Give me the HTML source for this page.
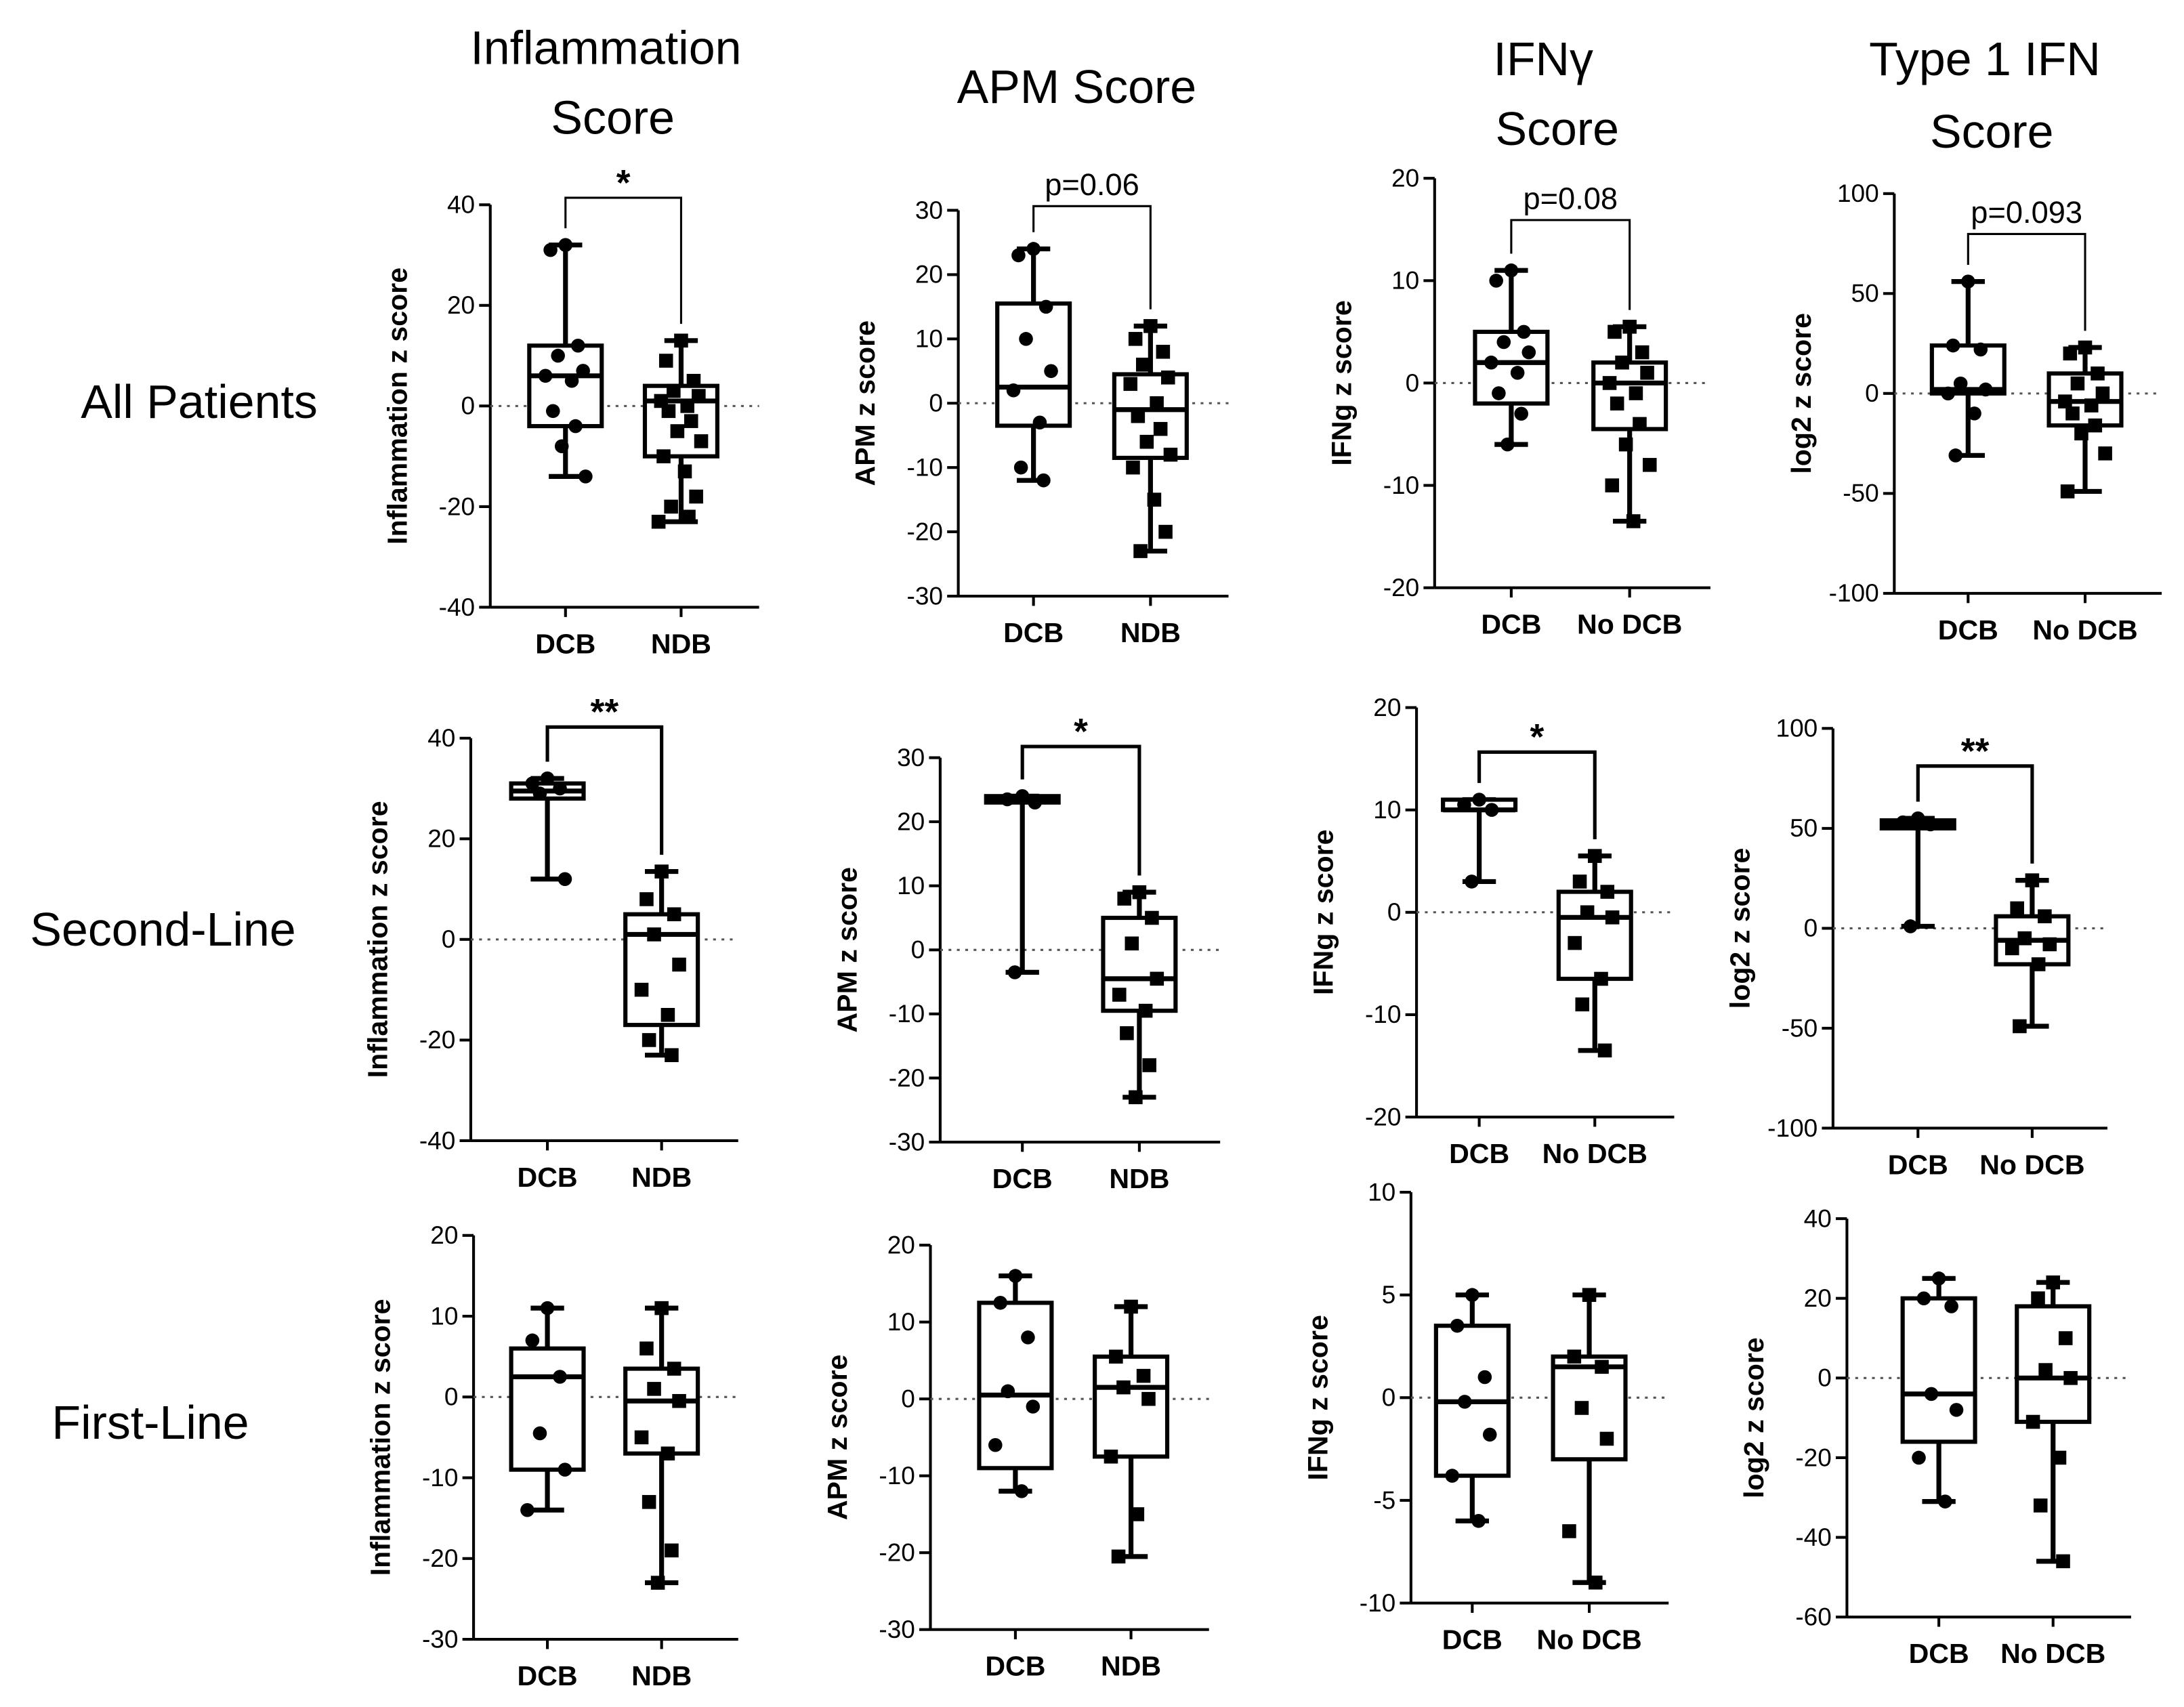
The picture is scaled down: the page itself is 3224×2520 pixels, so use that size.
<!DOCTYPE html>
<html><head><meta charset="utf-8"><style>
html,body{margin:0;padding:0;background:#fff;}
svg{display:block;font-family:"Liberation Sans",sans-serif;}
</style></head><body>
<svg id="fig" width="3224" height="2520" viewBox="0 0 1568 1225.6" xmlns="http://www.w3.org/2000/svg">
<g font-size="34" text-anchor="middle" fill="#000">
<text x="435" y="46">Inflammation</text>
<text x="440" y="96">Score</text>
<text x="773" y="74">APM Score</text>
<text x="1108" y="54">IFNγ</text>
<text x="1118" y="104">Score</text>
<text x="1425" y="54">Type 1 IFN</text>
<text x="1430" y="106">Score</text>
</g>
<g font-size="34" text-anchor="middle" fill="#000">
<text x="143" y="300">All Patients</text>
<text x="117" y="679">Second-Line</text>
<text x="108" y="1033">First-Line</text>
</g>
</svg>
<script>
// ---- data ----
const yAxisTitles=["Inflammation z score","APM z score","IFNg z score","log2 z score","Inflammation z score","APM z score","IFNg z score","log2 z score","Inflammation z score","APM z score","IFNg z score","log2 z score"];
const groupLabels=[["DCB","NDB"],["DCB","NDB"],["DCB","No DCB"],["DCB","No DCB"],["DCB","NDB"],["DCB","NDB"],["DCB","No DCB"],["DCB","No DCB"],["DCB","NDB"],["DCB","NDB"],["DCB","No DCB"],["DCB","No DCB"]];
const yMin=[-40,-30,-20,-100,-40,-30,-20,-100,-30,-30,-10,-60];
const yMax=[40,30,20,100,40,30,20,100,20,20,10,40];
const yTicks=[[40,20,0,-20,-40],[30,20,10,0,-10,-20,-30],[20,10,0,-10,-20],[100,50,0,-50,-100],[40,20,0,-20,-40],[30,20,10,0,-10,-20,-30],[20,10,0,-10,-20],[100,50,0,-50,-100],[20,10,0,-10,-20,-30],[20,10,0,-10,-20,-30],[10,5,0,-5,-10],[40,20,0,-20,-40,-60]];
const sigLabels=["*","p=0.06","p=0.08","p=0.093","**","*","*","**","","","",""];
// [min,q1,median,q3,max]
const dcbStats=[[-14,-4,6,12,32],[-12,-3.5,2.5,15.5,24],[-6,-2,2,5,11],[-31,0,2,24,56],[12,28,29.5,31,32],[-3.5,23,23.5,24,24],[3,10,10,11,11],[1,50,52,54,55],[-14,-9,2.5,6,11],[-12,-9,0.5,12.5,16],[-6,-3.8,-0.2,3.5,5],[-31,-16,-4,20,25]];
const ndbStats=[[-23,-10,1,4,13],[-23,-8.5,-1,4.5,12],[-13.5,-4.5,0,2,5.5],[-49,-16,-4,10,23],[-23,-17,1,5,13.5],[-23,-9.5,-4.5,5,9],[-13.5,-6.5,-0.5,2,5.5],[-49,-18,-6,6,24],[-23,-7,-0.5,3.5,11],[-20.5,-7.5,1.5,5.5,12],[-9,-3,1.5,2,5],[-46,-11,0,18,24]];
const dcbPoints=[[32,31,12,10,7,6,5,-1,-4,-8,-14],[24,23,15,10,5,2,-3,-10,-12],[11,10,5,4,3,2,1,-1,-3,-6],[56,24,22,5,2,0,-10,-31],[32,31,30,29,12],[24,23.5,23,-3.5],[11,10.5,10,3],[55,53,52,1],[11,7,2.5,-4.5,-9,-14],[16,12.5,8,1,-1,-6,-12],[5,3.5,1,-0.2,-1.8,-3.8,-6],[25,20,18,-4,-8,-20,-31]];
const ndbPoints=[[13,9,5,3,2,1,0,-1,-3,-5,-7,-10,-13,-18,-20,-22,-23],[12,10,8,6,4,3,0,-2,-4,-6,-8,-10,-15,-20,-23],[5.5,5,3,2,1,0,-1,-2,-4,-6,-8,-10,-13.5],[23,20,10,5,0,-4,-6,-10,-16,-20,-30,-49],[13.5,8,5,1,-5,-10,-15,-20,-23],[9,8,5,1,-4.5,-7,-9.5,-13,-18,-23],[5.5,3,2,0,-0.5,-3,-6.5,-9,-13.5],[24,10,6,-5,-8,-10,-18,-49],[11,6,3.5,1,-0.5,-5,-7,-13,-19,-23],[12,5.5,3,1.5,0,-7.5,-15,-20.5],[5,2,1.5,-0.5,-2,-6.5,-9],[24,20,10,2,0,-11,-20,-32,-46]];
// ---- layout (pixels) ----
const L=[
 {ax:352,top:147,bot:436,g1:406,g2:489,end:545,br:142},
 {ax:688,top:151,bot:428,g1:742,g2:826,end:882,br:148},
 {ax:1030,top:128,bot:422,g1:1085,g2:1170,end:1228,br:158},
 {ax:1360,top:139,bot:426,g1:1413,g2:1497,end:1552,br:168},
 {ax:338,top:530,bot:819,g1:393,g2:475,end:530,br:522},
 {ax:675,top:544,bot:820,g1:734,g2:818,end:876,br:536},
 {ax:1017,top:508,bot:802,g1:1062,g2:1145,end:1202,br:540},
 {ax:1316,top:523,bot:810,g1:1377,g2:1459,end:1513,br:550},
 {ax:340,top:887,bot:1177,g1:393,g2:475,end:530,br:0},
 {ax:668,top:894,bot:1170,g1:729,g2:812,end:868,br:0},
 {ax:1013,top:856,bot:1151,g1:1057,g2:1141,end:1198,br:0},
 {ax:1326,top:875,bot:1161,g1:1392,g2:1474,end:1530,br:0}];
const NS="http://www.w3.org/2000/svg";
const svg=document.getElementById('fig');
function mk(tag,attrs,parent){const e=document.createElementNS(NS,tag);for(const k in attrs)e.setAttribute(k,attrs[k]);parent.appendChild(e);return e;}
const jit=[0,-12,10,-6,14,-16,5,-10,8,-3,16,-14,3,12,-8,6,-18];
for(let p=0;p<12;p++){
 const l=L[p];
 const g=mk('g',{},svg);
 
 
 const y=v=>l.bot-(v-yMin[p])/(yMax[p]-yMin[p])*(l.bot-l.top);
 const ya=mk('line',{x1:l.ax,x2:l.ax,y1:l.top,y2:l.bot,stroke:'#000','stroke-width':2},g);
 
 
 const xa=mk('line',{x1:l.ax,x2:l.end,y1:l.bot,y2:l.bot,stroke:'#000','stroke-width':2},g);
 
 
 yTicks[p].forEach(t=>{
  mk('line',{x1:l.ax-8,x2:l.ax,y1:y(t),y2:y(t),stroke:'#000','stroke-width':2},g);
  const tx=mk('text',{x:l.ax-11,y:y(t)+6,'font-size':18,'text-anchor':'end'},g);
  tx.textContent=t;
  
  
 });
 const zl=mk('line',{x1:l.ax,x2:l.end,y1:y(0),y2:y(0),stroke:'#555','stroke-width':1.5,'stroke-dasharray':'2,4'},g);
 
 
 const yt=mk('text',{x:0,y:0,'font-size':20,'font-weight':'bold','text-anchor':'middle',transform:`translate(${l.ax-60},${(l.top+l.bot)/2}) rotate(-90)`},g);
 yt.textContent=yAxisTitles[p];
 
 
 [l.g1,l.g2].forEach((cx,gi)=>{
  mk('line',{x1:cx,x2:cx,y1:l.bot,y2:l.bot+7,stroke:'#000','stroke-width':2},g);
  const xl=mk('text',{x:cx,y:l.bot+33,'font-size':20,'font-weight':'bold','text-anchor':'middle'},g);
  xl.textContent=groupLabels[p][gi];
  
  
  const s=gi===0?dcbStats[p]:ndbStats[p];
  const bg=mk('g',{},g);
  
  
  const hw=26;
  mk('line',{x1:cx,x2:cx,y1:y(s[0]),y2:y(s[4]),stroke:'#000','stroke-width':3.5},bg);
  mk('line',{x1:cx-12,x2:cx+12,y1:y(s[0]),y2:y(s[0]),stroke:'#000','stroke-width':3.5},bg);
  mk('line',{x1:cx-12,x2:cx+12,y1:y(s[4]),y2:y(s[4]),stroke:'#000','stroke-width':3.5},bg);
  mk('rect',{x:cx-hw,y:y(s[3]),width:2*hw,height:Math.max(1,y(s[1])-y(s[3])),fill:'#fff',stroke:'#000','stroke-width':3},bg);
  mk('line',{x1:cx-hw,x2:cx+hw,y1:y(s[2]),y2:y(s[2]),stroke:'#000','stroke-width':3.5},bg);
  const pts=gi===0?dcbPoints[p]:ndbPoints[p];
  pts.forEach((v,i)=>{
   const px=cx+jit[i%jit.length]*0.9;
   let m;
   if(gi===0) m=mk('circle',{cx:px,cy:y(v),r:5,fill:'#000'},bg);
   else m=mk('rect',{x:px-5,y:y(v)-5,width:10,height:10,fill:'#000'},bg);
   
   
  });
 });
 if(sigLabels[p]){
  const s1=Math.max(...dcbPoints[p]),s2=Math.max(...ndbPoints[p]);
  const bk=mk('path',{d:`M${l.g1},${y(s1)-12} V${l.br} H${l.g2} V${y(s2)-12}`,fill:'none',stroke:'#000','stroke-width':l.br<200?1.5:2.5},g);
  
  
  const star=sigLabels[p].indexOf('*')===0;
  const st=mk('text',{x:(l.g1+l.g2)/2,y:star?l.br-2:l.br-8,'font-size':star?26:22,'font-weight':star?'bold':'normal','text-anchor':'middle'},g);
  st.textContent=sigLabels[p];
  
  
 }
}
</script>
</body></html>
